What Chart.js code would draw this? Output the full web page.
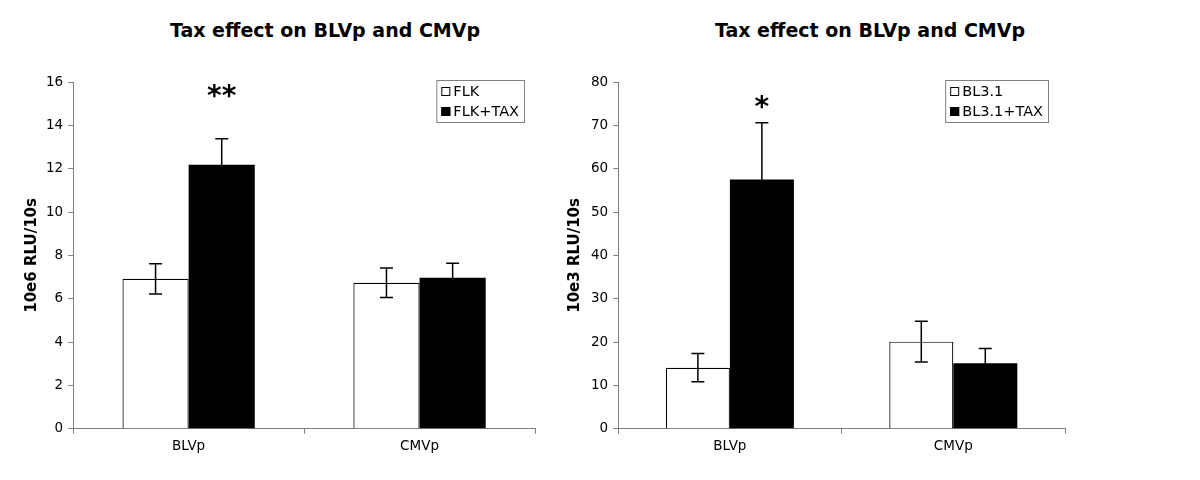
<!DOCTYPE html>
<html>
<head>
<meta charset="utf-8">
<script src="https://cdn.jsdelivr.net/npm/chart.js@4.4.1/dist/chart.umd.min.js"></script>
<style>
  body { margin: 0; background: #fff; }
  #wrap { position: relative; width: 1200px; height: 480px; background: #fff; overflow: hidden; }
  .box { position: absolute; top: 0; height: 480px; width: 600px; }
  .title { position: absolute; top: 19px; width: 400px; text-align: center;
           font: bold 19px "DejaVu Sans", Verdana, sans-serif; color: #000; }
</style>
</head>
<body>
<div id="wrap">
  <div class="title" style="left:125px">Tax effect on BLVp and CMVp</div>
  <div class="title" style="left:670px">Tax effect on BLVp and CMVp</div>
  <div class="box" style="left:0px"><canvas id="left"></canvas></div>
  <div class="box" style="left:545px"><canvas id="right"></canvas></div>
</div>
<script>
// data
var categories = ['BLVp', 'CMVp'];

var flk = [6.92, 6.74];
var flkErr = [0.70, 0.68];
var flkTax = [12.18, 6.97];
var flkTaxErr = [1.20, 0.67];
var leftStars = ['**', ''];
var leftStarAt = [15.5, null];

var bl31 = [14.1, 20.1];
var bl31Err = [3.25, 4.7];
var bl31Tax = [57.5, 15.1];
var bl31TaxErr = [13.1, 3.4];
var rightStars = ['*', ''];
var rightStarAt = [75, null];

var FONT = '"DejaVu Sans", Verdana, sans-serif';
var AXIS = '#808080';

// error bars drawn from each dataset's errors array
var errorBars = {
    id: 'errorBars',
    afterDatasetsDraw: function(chart) {
        var ctx = chart.ctx;
        var y = chart.scales.y;
        chart.data.datasets.forEach(function(ds, i) {
            var meta = chart.getDatasetMeta(i);
            meta.data.forEach(function(bar, j) {
                var v = ds.data[j], e = ds.errors[j];
                var top = y.getPixelForValue(v + e);
                var bot = y.getPixelForValue(v - e);
                ctx.save();
                ctx.strokeStyle = '#000';
                ctx.lineWidth = 1.5;
                ctx.beginPath();
                ctx.moveTo(bar.x, top); ctx.lineTo(bar.x, bot);
                ctx.moveTo(bar.x - 6.5, top); ctx.lineTo(bar.x + 6.5, top);
                ctx.moveTo(bar.x - 6.5, bot); ctx.lineTo(bar.x + 6.5, bot);
                ctx.stroke();
                ctx.restore();
            });
        });
    }
};

// significance asterisks over the second series
var stars = {
    id: 'stars',
    afterDatasetsDraw: function(chart, args, opts) {
        var ctx = chart.ctx;
        var meta = chart.getDatasetMeta(1);
        opts.marks.forEach(function(m, j) {
            if (!m) return;
            ctx.save();
            ctx.fillStyle = '#000';
            ctx.font = 'bold 28px ' + FONT;
            ctx.textAlign = 'center';
            ctx.textBaseline = 'middle';
            ctx.fillText(m, meta.data[j].x, chart.scales.y.getPixelForValue(opts.at[j]) + 5);
            ctx.restore();
        });
    }
};

// boxed legend inside the plot, top right
var boxLegend = {
    id: 'boxLegend',
    afterDraw: function(chart, args, opts) {
        var ctx = chart.ctx;
        var area = chart.chartArea;
        ctx.save();
        ctx.font = '14.5px ' + FONT;
        var tw = 0;
        chart.data.datasets.forEach(function(ds) {
            tw = Math.max(tw, ctx.measureText(ds.label).width);
        });
        var w = 5 + 9 + 3 + tw + 5;
        var h = 42;
        var x0 = area.right - opts.right - w;
        var y0 = area.top - 2;
        ctx.fillStyle = '#fff';
        ctx.fillRect(x0, y0, w, h);
        ctx.strokeStyle = AXIS;
        ctx.lineWidth = 1;
        ctx.strokeRect(x0 + 0.5, y0 + 0.5, w, h);
        chart.data.datasets.forEach(function(ds, i) {
            var cy = y0 + 12 + i * 20;
            ctx.fillStyle = ds.backgroundColor;
            ctx.fillRect(x0 + 5, cy - 5, 9, 9);
            ctx.strokeStyle = '#000';
            ctx.strokeRect(x0 + 5.5, cy - 4.5, 8, 8);
            ctx.fillStyle = '#000';
            ctx.textBaseline = 'middle';
            ctx.fillText(ds.label, x0 + 5 + 9 + 3, cy);
        });
        ctx.restore();
    }
};

function makeChart(id, names, a, aErr, b, bErr, yMax, yStep, yTitle, marks, at, pad, titleGap, legRight) {
    var ctx = document.getElementById(id).getContext('2d');
    return new Chart(ctx, {
        type: 'bar',
        data: {
            labels: categories,
            datasets: [{
                label: names[0],
                data: a,
                errors: aErr,
                backgroundColor: '#ffffff',
                borderColor: '#000000',
                borderWidth: 1.2
            }, {
                label: names[1],
                data: b,
                errors: bErr,
                backgroundColor: '#000000',
                borderColor: '#000000',
                borderWidth: 0
            }]
        },
        options: {
            responsive: true,
            maintainAspectRatio: false,
            animation: false,
            layout: { padding: pad },
            datasets: { bar: { categoryPercentage: 0.573, barPercentage: 1.0 } },
            plugins: {
                legend: { display: false },
                tooltip: { enabled: false },
                stars: { marks: marks, at: at },
                boxLegend: { right: legRight }
            },
            scales: {
                x: {
                    grid: { drawOnChartArea: false, tickLength: 5, color: AXIS },
                    border: { color: AXIS },
                    ticks: { color: '#000', font: { family: FONT, size: 13.5 }, padding: 5 }
                },
                y: {
                    min: 0,
                    max: yMax,
                    grid: { drawOnChartArea: false, tickLength: 5, color: AXIS },
                    border: { color: AXIS },
                    ticks: { stepSize: yStep, color: '#000', font: { family: FONT, size: 13.5 }, padding: 5 },
                    title: {
                        display: true,
                        text: yTitle,
                        color: '#000',
                        font: { family: FONT, size: 15, weight: 'bold' },
                        padding: { top: 4, bottom: titleGap }
                    }
                }
            }
        },
        plugins: [errorBars, stars, boxLegend]
    });
}

makeChart('left', ['FLK', 'FLK+TAX'], flk, flkErr, flkTax, flkTaxErr, 16, 2,
    '10e6 RLU/10s', leftStars, leftStarAt,
    { left: 19, right: 65, top: 82, bottom: 20 }, 0, 11);

makeChart('right', ['BL3.1', 'BL3.1+TAX'], bl31, bl31Err, bl31Tax, bl31TaxErr, 80, 10,
    '10e3 RLU/10s', rightStars, rightStarAt,
    { left: 17, right: 80, top: 82, bottom: 20 }, 2, 17);
</script>
</body>
</html>
